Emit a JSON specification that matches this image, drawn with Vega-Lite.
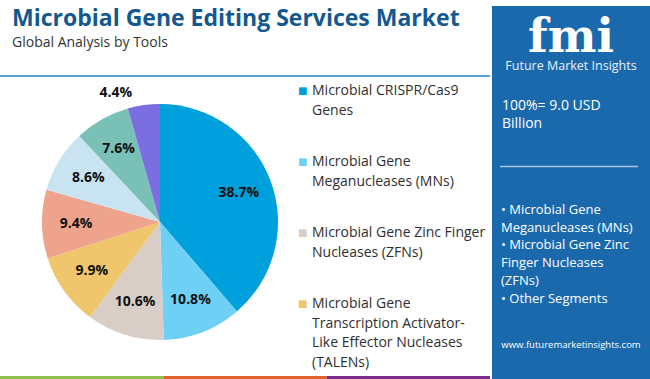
{
  "$schema": "https://vega.github.io/schema/vega-lite/v6.json",
  "background": "white",
  "padding": {"left": 0, "top": 6, "right": 0, "bottom": 0},
  "config": {"view": {"stroke": null}, "font": "Open Sans"},
  "datasets": {
    "tools": [
      {"rank": 1, "tool": "Microbial CRISPR/Cas9 Genes", "share": 38.7, "label": "38.7%", "legendText": "Microbial CRISPR/Cas9\nGenes"},
      {"rank": 2, "tool": "Microbial Gene Meganucleases (MNs)", "share": 10.8, "label": "10.8%", "legendText": "Microbial Gene\nMeganucleases (MNs)"},
      {"rank": 3, "tool": "Microbial Gene Zinc Finger Nucleases (ZFNs)", "share": 10.6, "label": "10.6%", "legendText": "Microbial Gene Zinc Finger\nNucleases (ZFNs)"},
      {"rank": 4, "tool": "Microbial Gene Transcription Activator-Like Effector Nucleases (TALENs)", "share": 9.9, "label": "9.9%", "legendText": "Microbial Gene\nTranscription Activator-\nLike Effector Nucleases\n(TALENs)"},
      {"rank": 5, "tool": "Other 1", "share": 9.4, "label": "9.4%", "legendText": "Other 1"},
      {"rank": 6, "tool": "Other 2", "share": 8.6, "label": "8.6%", "legendText": "Other 2"},
      {"rank": 7, "tool": "Other 3", "share": 7.6, "label": "7.6%", "legendText": "Other 3"},
      {"rank": 8, "tool": "Other 4", "share": 4.4, "label": "4.4%", "legendText": "Other 4"}
    ]
  },
  "spacing": 2,
  "resolve": {"scale": {"color": "independent"}},
  "hconcat": [
    {
      "spacing": 0,
      "resolve": {"scale": {"color": "independent"}},
      "vconcat": [
        {
          "width": 490,
          "height": 69,
          "data": {"values": [{"title": "Microbial Gene Editing Services Market", "subtitle": "Global Analysis by Tools"}]},
          "encoding": {
            "x": {"datum": 0, "type": "quantitative", "axis": null, "scale": {"domain": [0, 1]}}
          },
          "layer": [
            {
              "mark": {"type": "text", "align": "left", "baseline": "alphabetic", "dx": 12, "dy": -14.5, "fontSize": 23, "fontWeight": 700, "color": "#13598f"},
              "encoding": {"text": {"field": "title"}}
            },
            {
              "mark": {"type": "text", "align": "left", "baseline": "alphabetic", "dx": 12, "dy": 6.5, "fontSize": 14, "color": "#333333"},
              "encoding": {"text": {"field": "subtitle"}}
            }
          ]
        },
        {
          "width": 490,
          "height": 2,
          "data": {"values": [{"part": "line", "v": 1}]},
          "mark": {"type": "bar", "color": "#5aa2d4"},
          "encoding": {
            "x": {"field": "v", "type": "quantitative", "axis": null, "scale": {"domain": [0, 1]}},
            "y": {"datum": "strip", "type": "nominal", "axis": null, "scale": {"paddingInner": 0, "paddingOuter": 0}}
          }
        },
        {
          "spacing": 0,
          "bounds": "flush",
          "hconcat": [
            {
              "width": 320,
              "height": 290,
              "data": {"name": "tools"},
              "encoding": {
                "theta": {"field": "share", "type": "quantitative", "stack": true},
                "order": {"field": "rank", "type": "quantitative"}
              },
              "layer": [
                {
                  "mark": {"type": "arc", "outerRadius": 118},
                  "encoding": {
                    "color": {
                      "field": "tool",
                      "type": "nominal",
                      "legend": null,
                      "scale": {
                        "domain": ["Microbial CRISPR/Cas9 Genes", "Microbial Gene Meganucleases (MNs)", "Microbial Gene Zinc Finger Nucleases (ZFNs)", "Microbial Gene Transcription Activator-Like Effector Nucleases (TALENs)", "Other 1", "Other 2", "Other 3", "Other 4"],
                        "range": ["#00a0dc", "#6fd0f5", "#d9cdc8", "#efc66c", "#eea38c", "#c8e4f3", "#79c0b6", "#7a6ee0"]
                      }
                    }
                  }
                },
                {
                  "mark": {"type": "text", "radius": 84, "fontSize": 14, "fontWeight": 700, "color": "#111111"},
                  "encoding": {
                    "text": {"condition": {"test": "datum.share < 5", "value": ""}, "field": "label"}
                  }
                },
                {
                  "mark": {"type": "text", "radius": 132, "dx": -26, "dy": 2, "fontSize": 14, "fontWeight": 700, "color": "#111111"},
                  "encoding": {
                    "text": {"condition": {"test": "datum.share < 5", "field": "label"}, "value": ""}
                  }
                }
              ]
            },
            {
              "width": 170,
              "height": 299,
              "data": {"name": "tools"},
              "transform": [{"filter": "datum.rank <= 4"}],
              "encoding": {
                "y": {"field": "tool", "type": "nominal", "sort": null, "axis": null, "scale": {"type": "point", "padding": 0, "range": [18, 231]}},
                "x": {"datum": 0, "type": "quantitative", "axis": null, "scale": {"domain": [0, 1]}}
              },
              "layer": [
                {
                  "mark": {"type": "text", "text": "■", "font": "DejaVu Sans", "fontSize": 10, "align": "left", "baseline": "alphabetic", "dx": -22, "dy": -1},
                  "encoding": {
                    "color": {
                      "field": "tool",
                      "type": "nominal",
                      "legend": null,
                      "scale": {
                        "domain": ["Microbial CRISPR/Cas9 Genes", "Microbial Gene Meganucleases (MNs)", "Microbial Gene Zinc Finger Nucleases (ZFNs)", "Microbial Gene Transcription Activator-Like Effector Nucleases (TALENs)", "Other 1", "Other 2", "Other 3", "Other 4"],
                        "range": ["#0a9fd6", "#6ccaf0", "#d0cac8", "#ebc36a", "#eea38c", "#c8e4f3", "#79c0b6", "#7a6ee0"]
                      }
                    }
                  }
                },
                {
                  "mark": {"type": "text", "align": "left", "baseline": "alphabetic", "lineBreak": "\n", "lineHeight": 19.5, "dx": -8, "fontSize": 14, "color": "#2f2f2f"},
                  "encoding": {"text": {"field": "legendText"}}
                }
              ]
            }
          ]
        },
        {
          "width": 490,
          "height": 3,
          "data": {"values": [{"part": "green", "v": 1}, {"part": "orange", "v": 1}, {"part": "purple", "v": 1}]},
          "mark": {"type": "bar"},
          "encoding": {
            "x": {"field": "v", "type": "quantitative", "stack": true, "axis": null},
            "y": {"datum": "strip", "type": "nominal", "axis": null, "scale": {"paddingInner": 0, "paddingOuter": 0}},
            "order": {"field": "part"},
            "color": {"field": "part", "type": "nominal", "legend": null, "scale": {"domain": ["green", "orange", "purple"], "range": ["#8fc04e", "#e0632d", "#7d2e8c"]}}
          }
        }
      ]
    },
    {
      "width": 158,
      "height": 373,
      "view": {"fill": "#1b69ad", "stroke": null},
      "layer": [
        {
          "data": {"values": [{"t": "fmi"}]},
          "mark": {"type": "text", "font": "DejaVu Serif", "fontWeight": "bold", "fontSize": 46, "color": "white", "align": "center", "baseline": "alphabetic"},
          "encoding": {
            "text": {"field": "t"},
            "y": {"datum": 2.7, "type": "quantitative", "axis": null, "scale": {"domain": [0, 21], "reverse": true}}
          }
        },
        {
          "data": {"values": [{"t": "Future Market Insights"}]},
          "mark": {"type": "text", "fontSize": 12.5, "color": "#e8f0f8", "align": "center", "baseline": "alphabetic"},
          "encoding": {
            "text": {"field": "t"},
            "y": {"datum": 3.75, "type": "quantitative"}
          }
        },
        {
          "data": {"values": [{"t": "100%= 9.0 USD\nBillion"}]},
          "mark": {"type": "text", "fontSize": 14, "color": "white", "align": "left", "baseline": "alphabetic", "lineBreak": "\n", "lineHeight": 18, "dx": -69},
          "encoding": {
            "text": {"field": "t"},
            "y": {"datum": 6.14, "type": "quantitative"}
          }
        },
        {
          "data": {"values": [{"t": "rule"}]},
          "mark": {"type": "rule", "color": "#a9c7e4", "strokeWidth": 1.5},
          "encoding": {
            "x": {"datum": 0.05, "type": "quantitative", "axis": null, "scale": {"domain": [0, 1]}},
            "x2": {"datum": 0.925},
            "y": {"datum": 9.46, "type": "quantitative"}
          }
        },
        {
          "data": {"values": [{"t": "• Microbial Gene\nMeganucleases (MNs)\n• Microbial Gene Zinc\nFinger Nucleases\n(ZFNs)\n• Other Segments"}]},
          "mark": {"type": "text", "fontSize": 13, "color": "white", "align": "left", "baseline": "alphabetic", "lineBreak": "\n", "lineHeight": 17.7, "dx": -70},
          "encoding": {
            "text": {"field": "t"},
            "y": {"datum": 12.27, "type": "quantitative"}
          }
        },
        {
          "data": {"values": [{"t": "www.futuremarketinsights.com"}]},
          "mark": {"type": "text", "fontSize": 9.5, "color": "white", "align": "center", "baseline": "alphabetic"},
          "encoding": {
            "text": {"field": "t"},
            "y": {"datum": 20.2, "type": "quantitative"}
          }
        }
      ]
    }
  ]
}
